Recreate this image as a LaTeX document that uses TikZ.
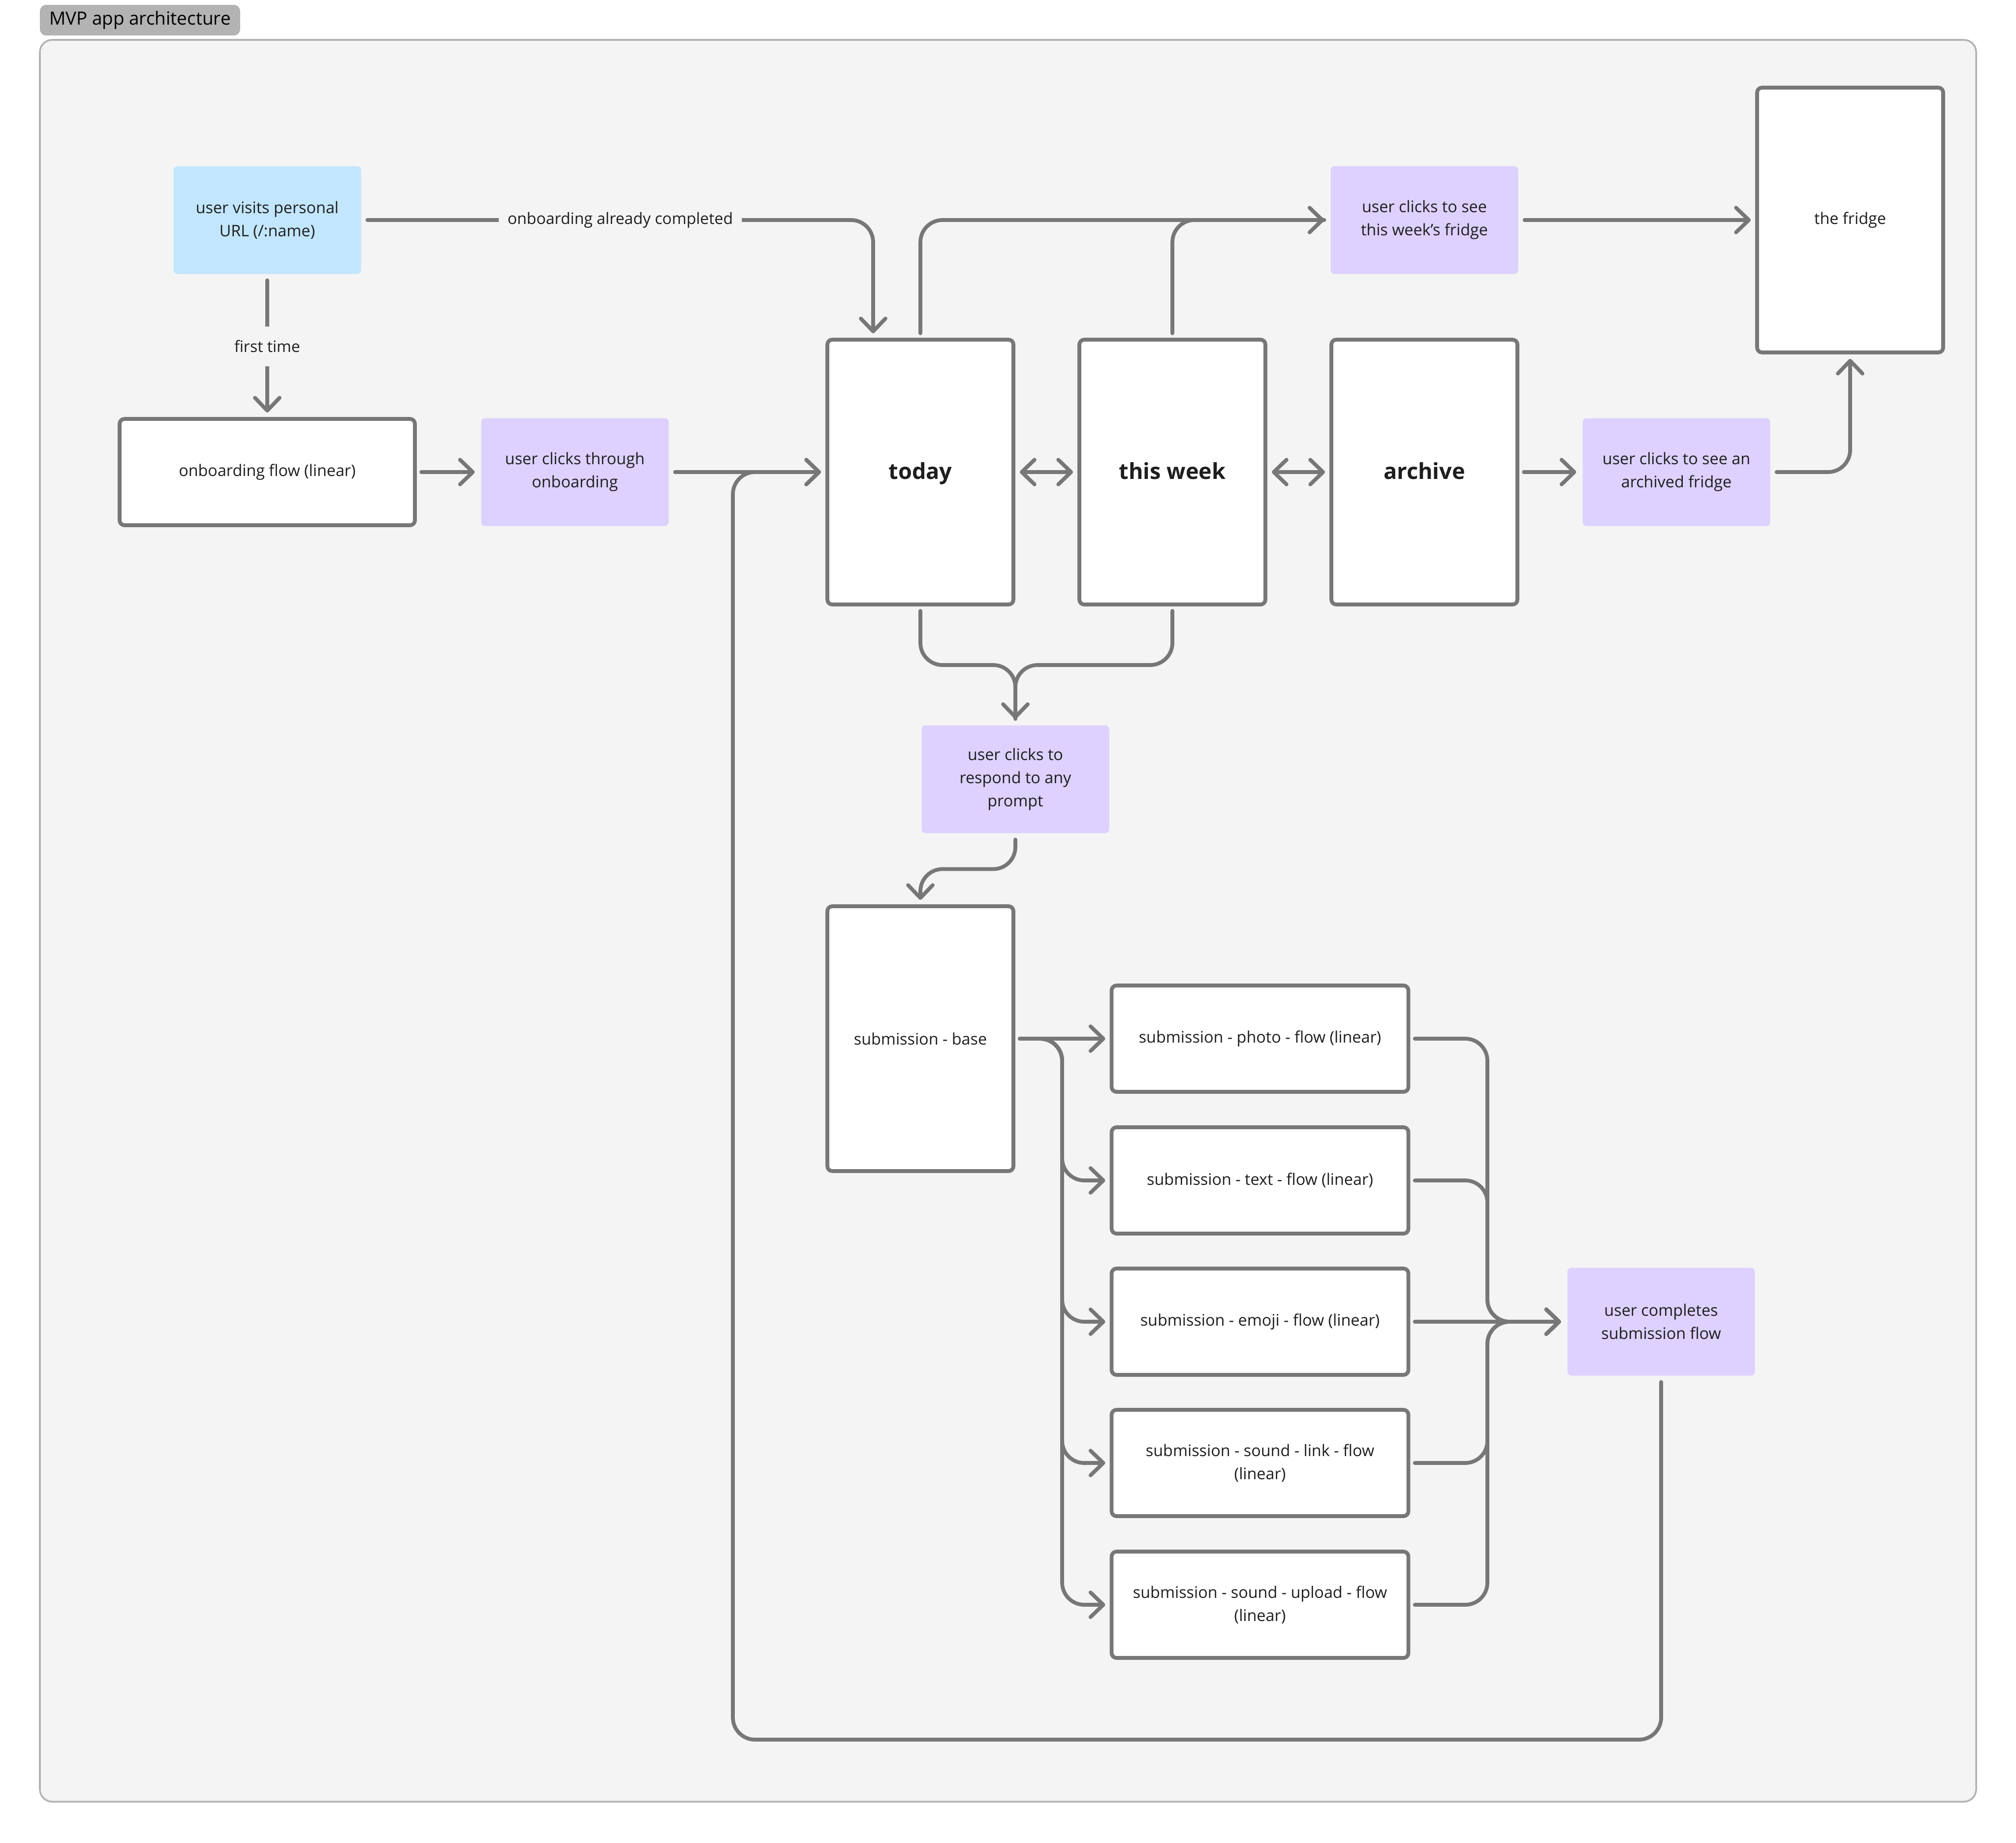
\documentclass[tikz,border=0pt]{standalone}
\usepackage{fontspec}
\setmainfont{Open Sans}
\usetikzlibrary{arrows.meta}
\definecolor{canvas}{HTML}{F4F4F4}
\definecolor{framegray}{HTML}{B3B3B3}
\definecolor{taggray}{HTML}{B3B3B3}
\definecolor{linegray}{HTML}{777777}
\definecolor{entryblue}{HTML}{C2E6FD}
\definecolor{actionpurple}{HTML}{DDD1FF}
\definecolor{inkgray}{HTML}{1E1E1E}

\tikzset{
  >={Straight Barb[length=0.26cm,width=0.5cm,round]},
  link/.style={draw=linegray, line width=2.2pt, line cap=round, rounded corners=0.45cm},
  card/.style={align=center, text=inkgray, outer sep=0.13cm,
    font={\fontsize{9.2pt}{13.4pt}\selectfont}},
  entry/.style={card, fill=entryblue, rounded corners=0.08cm,
    minimum width=3.81cm, minimum height=2.19cm},
  action/.style={card, fill=actionpurple, rounded corners=0.08cm,
    minimum width=3.81cm, minimum height=2.19cm},
  screen/.style={card, draw=linegray, line width=2.2pt, fill=white, rounded corners=0.1cm,
    minimum width=3.78cm, minimum height=5.38cm},
  bigscreen/.style={screen, text height=0.95em, text depth=0.1em,
    font={\fontsize{12.8pt}{15pt}\selectfont\bfseries}},
  flowbox/.style={card, draw=linegray, line width=2.2pt, fill=white, rounded corners=0.1cm,
    minimum width=6.03cm, minimum height=2.16cm},
  edgelabel/.style={fill=canvas, text=inkgray, inner xsep=0.18cm, inner ysep=0.28cm,
    font={\fontsize{9.1pt}{10pt}\selectfont}}
}

\begin{document}
\begin{tikzpicture}
\useasboundingbox[fill=white] (0,0) rectangle (40.96,-37.44);

% frame
\draw[draw=framegray, fill=canvas, line width=1pt, rounded corners=0.25cm] (0.81,-0.81) rectangle (40.15,-36.60);
\node[fill=taggray, draw=black!30, line width=0.6pt, rounded corners=0.12cm, anchor=west,
  minimum height=0.52cm, inner xsep=0.18cm, font={\fontsize{10.5pt}{12pt}\selectfont}] (title) at (0.81,-0.41) {MVP app architecture};

% entry and onboarding
\node[entry] (visit) at (5.43,-4.47) {user visits personal\\URL (/:name)};
\node[flowbox, minimum width=6.0cm] (onboard) at (5.43,-9.59) {onboarding flow (linear)};
\node[action] (through) at (11.68,-9.59) {user clicks through\\onboarding};

% main screens
\node[bigscreen] (today) at (18.70,-9.59) {today};
\node[bigscreen] (week) at (23.82,-9.59) {this week};
\node[bigscreen] (archive) at (28.94,-9.59) {archive};
\node[action] (seearchived) at (34.06,-9.59) {user clicks to see an\\archived fridge};
\node[action] (seeweek) at (28.94,-4.47) {user clicks to see\\this week’s fridge};
\node[screen] (fridge) at (37.59,-4.47) {the fridge};

% submissions
\node[action] (respond) at (20.63,-15.83) {user clicks to\\respond to any\\prompt};
\node[screen] (base) at (18.70,-21.10) {submission - base};
\node[flowbox] (photo) at (25.60,-21.10) {submission - photo - flow (linear)};
\node[flowbox] (text) at (25.60,-23.98) {submission - text - flow (linear)};
\node[flowbox] (emoji) at (25.60,-26.85) {submission - emoji - flow (linear)};
\node[flowbox] (link) at (25.60,-29.72) {submission - sound - link - flow\\(linear)};
\node[flowbox] (upload) at (25.60,-32.60) {submission - sound - upload - flow\\(linear)};
\node[action] (complete) at (33.75,-26.85) {user completes\\submission flow};

\coordinate (join) at (20.63,-13.51);
\coordinate (split) at (21.58,-21.10);
\coordinate (merge) at (30.22,-26.85);
\coordinate (loop) at (14.89,-35.34);

% connectors
\draw[link,->] (visit.east) -| node[edgelabel, pos=0.25]{onboarding already completed} ([xshift=-0.96cm]today.north);
\draw[link,->] (visit.south) -- node[edgelabel]{first time} (onboard.north);
\draw[link,->] (onboard) -- (through);
\draw[link,->] (through) -- (today);
\draw[link,<->] (today) -- (week);
\draw[link,<->] (week) -- (archive);
\draw[link,->] (archive) -- (seearchived);
\draw[link,->] (seearchived.east) -| (fridge.south);
\draw[link,->] (today.north) |- (seeweek.west);
\draw[link] (week.north) |- (seeweek.west);
\draw[link,->] (seeweek) -- (fridge);
\draw[link,->] (today.south) |- (join) -- (respond.north);
\draw[link] (week.south) |- (join) -- (respond.north);
\draw[link,->] (respond.south) -- ++(0,-0.6) -| (base.north);
\draw[link,->] (base.east) -- (photo.west);
\foreach \flow in {text,emoji,link,upload}
  \draw[link,->] (base.east) -- (split) |- (\flow.west);
\foreach \flow in {photo,text,link,upload}
  \draw[link,->] (\flow.east) -| (merge) -- (complete.west);
\draw[link,->] (emoji) -- (complete);
\draw[link,->] (complete.south) |- (loop) |- (today.west);
\end{tikzpicture}
\end{document}
